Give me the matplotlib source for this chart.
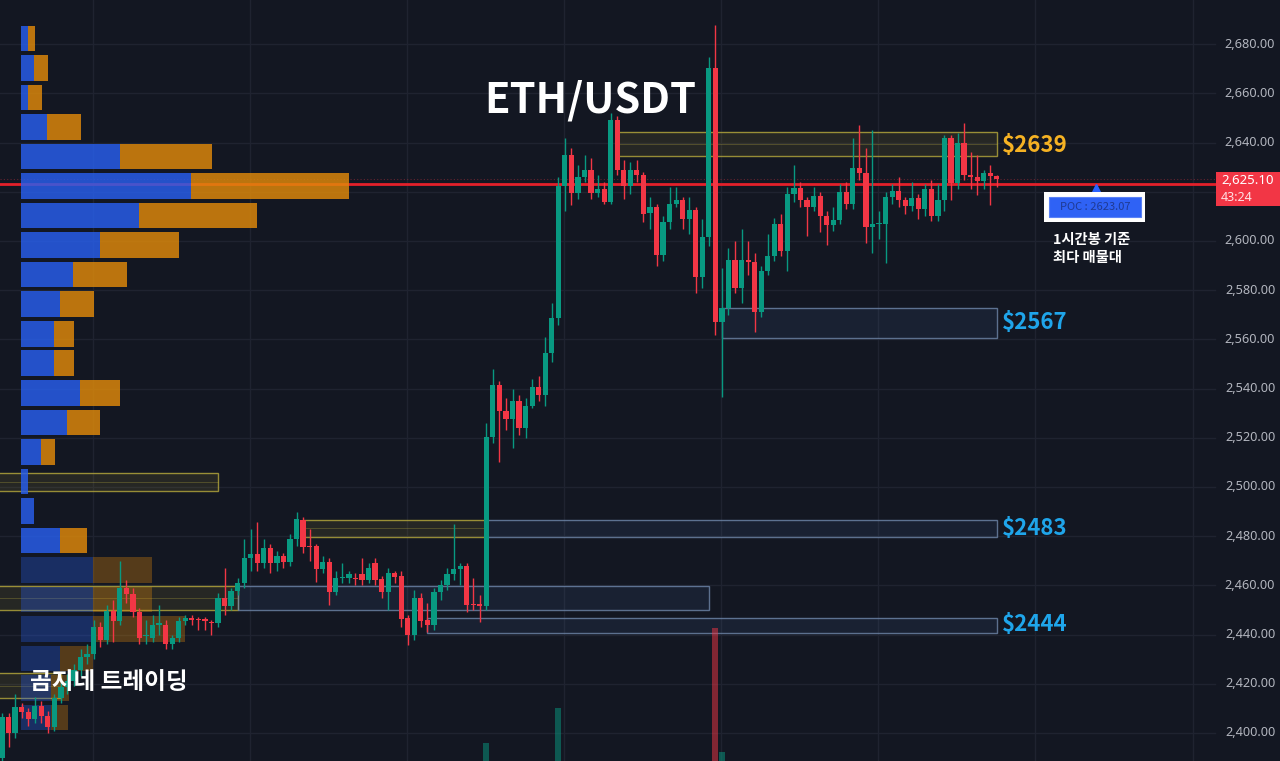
import numpy as np
import matplotlib.pyplot as plt
from matplotlib.patches import Rectangle

plt.rcParams['font.family'] = ['Noto Sans CJK KR', 'DejaVu Sans']

# ---- 1h candles ETH/USDT ----
opens = [
    2390, 2406.5, 2400, 2410.6, 2408.5, 2405.7, 2411, 2407, 2402.4, 2414.2,
    2418.7, 2421, 2425.6, 2431, 2432, 2443, 2438, 2449.6, 2445.5, 2459,
    2456.5, 2449, 2439.5, 2438.6, 2444, 2444, 2436, 2438.6, 2445.5, 2446.8,
    2446, 2446.3, 2445.2, 2444.6, 2455, 2451.6, 2457.7, 2461, 2471, 2472.8,
    2469, 2475, 2469, 2472, 2469.5, 2479, 2486.6, 2476, 2476, 2466.7,
    2469.5, 2457.3, 2463, 2463, 2462.8, 2464.6, 2462, 2469, 2462.6, 2457.3,
    2465, 2463.8, 2446.7, 2439.8, 2455, 2446, 2444, 2457.3, 2460, 2464.6,
    2466.7, 2468, 2452.3, 2452.5, 2451.6, 2520.3, 2541.5, 2531, 2527.6, 2535,
    2524, 2533, 2540.6, 2537.4, 2554.5, 2568.7, 2622.4, 2635, 2619.5, 2626,
    2629, 2619.5, 2621, 2616, 2649, 2629, 2622.4, 2629, 2627, 2611.4,
    2613.8, 2594.3, 2607.7, 2615, 2616.7, 2609, 2612.6, 2585.4, 2601.6, 2670.3,
    2567, 2572.8, 2592.3, 2581, 2592.3, 2591.5, 2571, 2587.8, 2594, 2607,
    2596, 2619, 2621.5, 2616.7, 2613.8, 2618.3, 2610, 2606.5, 2608.5, 2620,
    2615, 2629.7, 2627.6, 2605.7, 2607, 2607, 2618, 2620.3, 2616.7, 2614.2,
    2617.5, 2613, 2621, 2610, 2616.7, 2641.9, 2623.6, 2640, 2627, 2626,
    2624.4, 2627.6, 2626.4]
closes = [
    2406.5, 2400, 2410.6, 2408.5, 2405.7, 2411, 2407, 2402.4, 2414.2, 2418.7,
    2421, 2425.6, 2431, 2432, 2443, 2438, 2449.6, 2445.5, 2459, 2456.5,
    2449, 2438.6, 2440, 2444, 2444.6, 2436, 2438.6, 2445.5, 2446.7, 2446,
    2445.8, 2445.5, 2444.6, 2455, 2451.6, 2457.7, 2461, 2471, 2472.8, 2469,
    2475, 2469, 2472, 2469.5, 2479, 2487, 2475.6, 2475.6, 2466.7, 2469.5,
    2457.3, 2463, 2463.3, 2464.6, 2462.5, 2462, 2467, 2462, 2457.3, 2465,
    2463.4, 2446.3, 2439.8, 2455, 2445.5, 2444, 2457.3, 2460, 2464.6, 2466.7,
    2468, 2452, 2452, 2451.6, 2520.3, 2541.5, 2531, 2527.6, 2535, 2524,
    2533, 2540.6, 2537.4, 2554.5, 2568.7, 2622.4, 2635, 2619.5, 2626, 2629,
    2619.5, 2621, 2616, 2649, 2629, 2622.4, 2629, 2627, 2611, 2613.8,
    2594.3, 2607.7, 2615, 2616.7, 2609, 2612.6, 2585.4, 2601.6, 2670.3, 2567,
    2572.8, 2592.3, 2581, 2592.3, 2591.5, 2571, 2587.8, 2594, 2607, 2596,
    2619, 2621.5, 2616.7, 2613.8, 2618.3, 2610, 2606.5, 2608.5, 2620, 2615,
    2629.7, 2627.6, 2605.7, 2607, 2607.2, 2618, 2620.3, 2616.7, 2614.2, 2617.5,
    2613, 2621, 2610, 2616.7, 2641.9, 2623.6, 2640, 2627, 2626, 2624.4,
    2627.6, 2626.4, 2625.1]
highs = [
    2408, 2408, 2416, 2412, 2410, 2414.6, 2413, 2409, 2416, 2421,
    2424, 2428, 2434, 2436, 2446, 2445, 2452, 2454, 2470, 2462,
    2459, 2451, 2446, 2448, 2452, 2446, 2440, 2447, 2448, 2448,
    2447, 2447, 2446, 2457, 2467, 2459, 2463, 2479, 2483, 2485.8,
    2479, 2477, 2474, 2473, 2481, 2489.8, 2488, 2483, 2477, 2472,
    2471, 2466, 2469, 2466, 2465, 2471, 2469, 2471, 2464, 2467,
    2466, 2466, 2448, 2458, 2457, 2453, 2459, 2462, 2467, 2485,
    2469, 2469, 2463, 2456, 2526, 2548, 2543, 2536, 2540, 2537.5,
    2536, 2544, 2545, 2561, 2575, 2626, 2642, 2638, 2631, 2635,
    2633.7, 2627, 2624, 2652, 2651, 2633, 2632, 2633, 2628, 2618,
    2615, 2610, 2622, 2622, 2618, 2618, 2614, 2609, 2675, 2687.8,
    2589, 2597, 2600, 2605, 2600, 2595, 2590, 2603, 2609.5, 2611,
    2622, 2631, 2624, 2618, 2622, 2620, 2612, 2614, 2623, 2624,
    2642, 2647, 2638, 2645, 2612, 2620, 2623, 2626, 2618, 2624,
    2619, 2623, 2625, 2623, 2643, 2643, 2644, 2648, 2636, 2635,
    2629, 2631, 2627]
lows = [
    2386, 2394.3, 2398, 2406, 2403, 2404, 2404, 2400, 2401, 2412,
    2416, 2419, 2423, 2428, 2430, 2435, 2436, 2437, 2444, 2453,
    2447, 2436, 2436, 2437, 2440, 2434, 2434, 2437, 2444, 2444,
    2442, 2442, 2440, 2443, 2448, 2450, 2456, 2459, 2466, 2466,
    2467, 2465, 2466, 2467, 2468, 2476, 2473, 2470, 2461.4, 2465,
    2452, 2456, 2461, 2461, 2460, 2460, 2461, 2460, 2455, 2450,
    2461, 2443, 2435.8, 2438, 2443, 2441, 2442, 2454, 2458, 2462,
    2460, 2449, 2450, 2445, 2450, 2518, 2510, 2523, 2516, 2521,
    2520, 2532, 2535, 2533, 2551, 2566, 2612, 2614.6, 2617, 2624,
    2617, 2618, 2615, 2615, 2627, 2617, 2619, 2624, 2607.7, 2605,
    2590, 2592, 2605, 2614, 2605, 2603, 2579, 2581, 2598, 2561.8,
    2536.6, 2570, 2579, 2575, 2586, 2563, 2569, 2586, 2592, 2594,
    2588, 2616, 2614, 2602, 2612, 2603.7, 2598.4, 2604, 2607, 2613,
    2613, 2625, 2599, 2595, 2601, 2591, 2615, 2614, 2611, 2612,
    2609, 2610, 2608, 2608, 2612, 2616.7, 2621, 2625, 2621, 2618.7,
    2621, 2614.6, 2622]

# volume bars that rise into view (candle index, volume in K)
vol_idx = [74, 85, 109, 110]
vol_k = [18, 53, 133, 9]

# volume profile, 12 USDT rows from 2687.5 downward (buy / sell)
vp_top = 2687.5
vp_row = 12
vp_buy = [7, 13, 7, 26, 99, 170, 118, 79, 52, 39, 33, 33,
          59, 46, 20, 7, 13, 39, 72, 72, 72, 39, 30, 30]
vp_sell = [7, 14, 14, 34, 92, 158, 118, 79, 54, 34, 20, 20,
           40, 33, 14, 0, 0, 27, 59, 59, 92, 33, 18, 17]

# support / resistance zones: (start idx, end idx, low, high, kind)
zones = [
    (94, 152, 2634.6, 2644.3, 'y'),
    (110, 152, 2560.6, 2572.8, 'b'),
    (-1, 33, 2498.4, 2505.7, 'y'),
    (46, 74, 2479.7, 2486.6, 'y'),
    (74, 152, 2479.7, 2486.6, 'b'),
    (-1, 36, 2450.0, 2459.8, 'y'),
    (36, 108, 2450.0, 2459.8, 'b'),
    (65, 152, 2440.7, 2446.7, 'b'),
    (-1, 9, 2414.2, 2424.4, 'y'),
]
zone_labels = [('$2639', 2639), ('$2567', 2567), ('$2483', 2483), ('$2444', 2444)]

poc = 2623.07
last_price = 2625.10
countdown = '43:24'
price_ticks = list(range(2400, 2701, 20))

# ---- figure ----
BG = '#131722'
GRID = '#1f2330'
UP, DN = '#089981', '#f23645'
W, H = 1280, 761
STEP = 6.545

fig = plt.figure(figsize=(12.8, 7.61), dpi=100, facecolor=BG)
ax = fig.add_axes([0, 0, 1, 1])
ax.set_facecolor('none')
ax.axis('off')


def px(xp):
    return (xp - 2) / STEP


def py(yp):
    return 2400 + (733 - yp) / 2.46


ax.set_xlim(px(0), px(W))
ax.set_ylim(py(H), py(0))

# grid
for p in price_ticks:
    ax.plot([px(0), px(1215)], [p, p], color=GRID, lw=1, zorder=0)
for k in range(8):
    ax.axvline(13.9 + 24 * k, color=GRID, lw=1, zorder=0)

# volume bars (own scale)
axv = ax.twinx()
axv.set_ylim(0, H)
axv.axis('off')
axv.bar(vol_idx, vol_k, width=0.92,
        color=[UP if closes[i] >= opens[i] else DN for i in vol_idx], alpha=0.5)

# POC line and current price line
ax.plot([px(0), px(1215)], [poc, poc], color='#e3202a', lw=2, zorder=1.5)
ax.plot([px(0), px(1215)], [last_price, last_price], color=DN, lw=0.8,
        alpha=0.35, ls=(0, (1, 2)), zorder=1.5)

# volume profile
rows = np.arange(len(vp_buy))
centers = vp_top - vp_row * rows - 5.2
for r in rows:
    a = 0.32 if r >= 18 else 0.82
    ax.barh(centers[r], vp_buy[r] / STEP, left=px(21), height=10.4,
            color='#285fef', alpha=a, zorder=2)
    if vp_sell[r]:
        ax.barh(centers[r], vp_sell[r] / STEP, left=px(21) + vp_buy[r] / STEP,
                height=10.4, color='#e18a0a', alpha=a, zorder=2)

# zones
for x_a, x_b, lo, hi, kind in zones:
    if kind == 'y':
        fc, ec = '#f0d23c', '#b8aa3c'
    else:
        fc, ec = '#5b8ad6', '#6f87aa'
    ax.add_patch(Rectangle((x_a, lo), x_b - x_a, hi - lo, facecolor=fc,
                           alpha=0.09, edgecolor='none', zorder=1.8))
    ax.add_patch(Rectangle((x_a, lo), x_b - x_a, hi - lo, facecolor='none',
                           edgecolor=ec, lw=1, alpha=0.8, zorder=1.9))
    if kind == 'y':
        ax.plot([x_a, x_b], [(lo + hi) / 2] * 2, color=ec, lw=0.6,
                alpha=0.35, zorder=1.9)

for txt, val in zone_labels:
    col = '#f5b223' if val == 2639 else '#1fa5ea'
    ax.text(px(1002), val, txt, color=col, fontsize=16, fontweight='bold',
            va='center', ha='left', zorder=10)

# candles
o = np.array(opens)
c = np.array(closes)
x = np.arange(len(o))
cols = np.where(c >= o, UP, DN)
ax.vlines(x, lows, highs, colors=cols, lw=1, zorder=3)
ax.bar(x, np.maximum(np.abs(c - o), 0.45), bottom=np.minimum(o, c),
       width=0.8, color=cols, zorder=4)

# price axis labels (2,620 sits under the last-price tag)
for p in price_ticks:
    if abs(p - last_price) < 8:
        continue
    ax.text(px(1250), p, f'{p:,.2f}', color='#b2b5be', fontsize=9.2,
            ha='center', va='center', family=['Noto Sans', 'DejaVu Sans'], zorder=6)

# last price tag
ax.add_patch(Rectangle((px(1216), py(206)), px(1280) - px(1216), py(172) - py(206),
                       facecolor=DN, edgecolor='none', zorder=8))
ax.text(px(1221), py(181), f'{last_price:,.2f}', color='white', fontsize=9.5,
        ha='left', va='center', fontweight='bold', family=['Noto Sans', 'DejaVu Sans'], zorder=9)
ax.text(px(1221), py(197.5), countdown, color='#ffe0e3', fontsize=9,
        ha='left', va='center', family=['Noto Sans', 'DejaVu Sans'], zorder=9)

# POC callout
ax.plot(px(1096), py(189), marker='^', ms=7, color='#2962ff', zorder=9)
ax.add_patch(Rectangle((px(1044), py(222)), px(1145) - px(1044), py(192) - py(222),
                       facecolor='white', edgecolor='none', zorder=9))
ax.add_patch(Rectangle((px(1049), py(217)), px(1141) - px(1049), py(197) - py(217),
                       facecolor='#2f62f5', edgecolor='#5b82f7', lw=0.8, zorder=10))
ax.text(px(1095), py(207.5), f'POC : {poc:.2f}', color='#1f3a93', fontsize=8,
        ha='center', va='center', zorder=11)
ax.text(px(1053), py(240), '1시간봉 기준', color='white', fontsize=10.3,
        fontweight='bold', ha='left', va='center', zorder=11)
ax.text(px(1053), py(258), '최다 매물대', color='white', fontsize=10.3,
        fontweight='bold', ha='left', va='center', zorder=11)

# titles
ax.text(px(590), py(101), 'ETH/USDT', color='white', fontsize=30,
        fontweight='bold', ha='center', va='center', zorder=11)
ax.text(px(30), py(682), '곰지네 트레이딩', color='white', fontsize=17,
        fontweight='bold', ha='left', va='center', zorder=11)

fig.savefig('out.png', dpi=100, facecolor=BG)
